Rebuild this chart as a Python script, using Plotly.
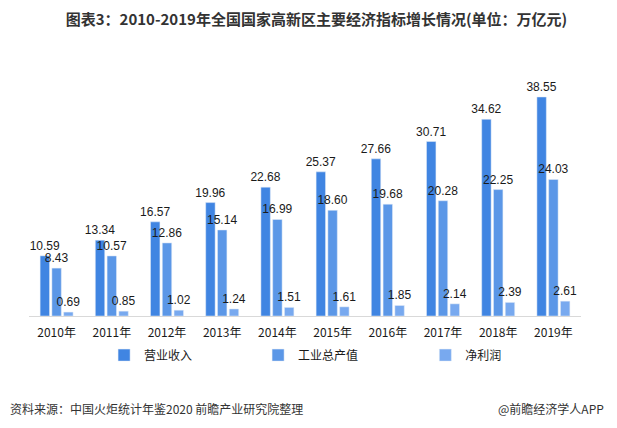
import plotly.graph_objects as go

years = ["2010年", "2011年", "2012年", "2013年", "2014年", "2015年", "2016年", "2017年", "2018年", "2019年"]
revenue = [10.59, 13.34, 16.57, 19.96, 22.68, 25.37, 27.66, 30.71, 34.62, 38.55]
industrial = [8.43, 10.57, 12.86, 15.14, 16.99, 18.60, 19.68, 20.28, 22.25, 24.03]
profit = [0.69, 0.85, 1.02, 1.24, 1.51, 1.61, 1.85, 2.14, 2.39, 2.61]

names = ["营业收入", "工业总产值", "净利润"]
colors = ["#4085e2", "#5b97e7", "#78a9ef"]
font_cjk = "Noto Sans CJK SC, Microsoft YaHei, sans-serif"

fig = go.Figure()
for i, (vals, name, col) in enumerate(zip([revenue, industrial, profit], names, colors)):
    fig.add_trace(go.Bar(
        x=years, y=vals, name=name, marker_color=col,
        text=[f"{v:.2f}" for v in vals], textposition="outside",
        constraintext="none",
        textfont=dict(size=12, color="#1a1a1a", family="Liberation Sans, Arial"),
        cliponaxis=False,
        legend="legend" if i == 0 else f"legend{i+1}",
    ))

legend_common = dict(orientation="h", yref="container", y=0.189, yanchor="middle", xanchor="left",
                     font=dict(size=12, color="#1a1a1a", family=font_cjk),
                     bgcolor="rgba(0,0,0,0)", itemwidth=30)

fig.update_layout(
    width=617, height=428,
    margin=dict(l=21, r=44, t=62, b=120, autoexpand=False),
    paper_bgcolor="white", plot_bgcolor="white",
    barmode="group", bargap=0.36, bargroupgap=0.2,
    title=dict(text="<b>图表3：2010-2019年全国国家高新区主要经济指标增长情况(单位：万亿元)</b>",
               x=0.5, xanchor="center", xref="container", y=0.972, yanchor="middle",
               font=dict(size=15, color="#333333", family=font_cjk)),
    xaxis=dict(showline=True, linecolor="#d9d9d9", linewidth=1, ticks="", automargin=False,
               ticklabelstandoff=6,
               tickfont=dict(size=12, color="#1a1a1a", family=font_cjk)),
    yaxis=dict(range=[0, 43.3], visible=False, showgrid=False),
    legend=dict(x=0.136, xref="paper", **legend_common),
    legend2=dict(x=0.415, xref="paper", **legend_common),
    legend3=dict(x=0.718, xref="paper", **legend_common),
    annotations=[
        dict(text="资料来源：中国火炬统计年鉴2020 前瞻产业研究院整理", xref="paper", yref="paper",
             x=-0.038, xanchor="left", y=-0.374, yanchor="middle", showarrow=False,
             font=dict(size=12, color="#333333", family=font_cjk)),
        dict(text="@前瞻经济学人APP", xref="paper", yref="paper",
             x=1.045, xanchor="right", y=-0.374, yanchor="middle", showarrow=False,
             font=dict(size=12, color="#333333", family=font_cjk)),
    ],
    showlegend=True,
)

fig.write_html("out.html")
